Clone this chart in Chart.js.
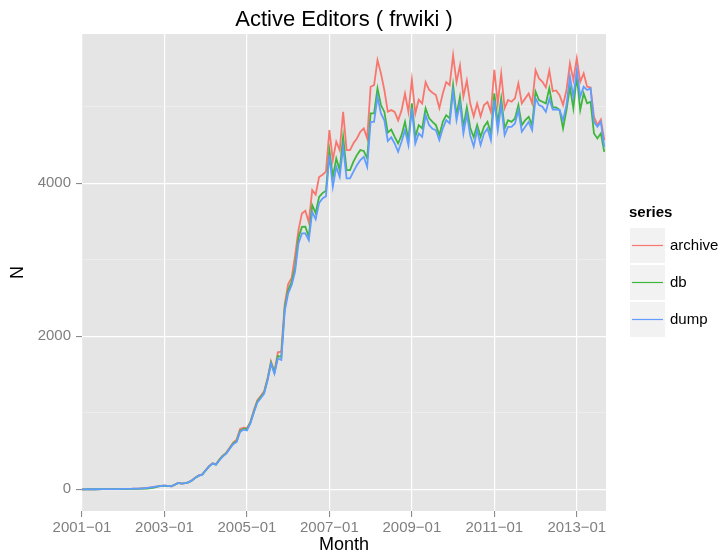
<!DOCTYPE html>
<html lang="en">

<head>
    <meta charset="UTF-8">
    <title>Active Editors ( frwiki )</title>
    <script src="https://cdn.jsdelivr.net/npm/chart.js"></script>
    <style>
        html, body { margin: 0; padding: 0; background: #ffffff; }
        canvas { display: block; }
    </style>
</head>

<body>
    <canvas id="editorsChart" width="724" height="556"></canvas>

    <script>
        // Monthly active editors, first month 2001-01
        const firstYear = 2001;
        const seriesNames = ['archive', 'db', 'dump'];
        const seriesColors = ['#F8766D', '#3DB63C', '#619CFF'];

        const archive = [
            0, 0, 1, 1, 1, 2, 2, 2, 3, 3, 4, 4, 5, 6, 7, 8, 9, 11, 14, 18,
            24, 32, 40, 46, 48, 44, 40, 62, 85, 76,
            82, 93, 120, 155, 182, 196, 252, 305, 342, 330,
            392, 442, 480, 545, 610, 650, 790, 806, 800, 880,
            1030, 1160, 1220, 1280, 1450, 1670, 1540, 1790, 1800, 2420,
            2680, 2760, 3050, 3386, 3604, 3640, 3490, 3908, 3850, 4080,
            4110, 4150, 4693, 4300, 4542, 4431, 4932, 4431, 4431, 4520,
            4584, 4671, 4714, 4584, 5259, 5281, 5608, 5434, 5216, 4932,
            4954, 4930, 4820, 4950, 5170, 4930, 5350, 4910, 5090, 5040,
            5320, 5220, 5180, 5150, 4980, 5170, 5320, 5280, 5670, 5320,
            5540, 5130, 5340, 5040, 4870, 5040, 4870, 5020, 5060, 4930,
            5480, 5040, 5430, 4980, 5085, 5063, 5107, 5303, 5042, 5107,
            5172, 5042, 5477, 5368, 5324, 5250, 5470, 5200, 5210, 5150,
            5020, 5216, 5564, 5346, 5630, 5324, 5434, 5259, 5250, 4867,
            4758, 4830, 4562
        ];

        const db = [
            0, 0, 1, 1, 1, 1, 2, 2, 2, 3, 3, 4, 4, 5, 6, 6, 7, 8, 9, 11,
            15, 22, 34, 44, 48, 44, 40, 60, 83, 74,
            80, 91, 117, 150, 179, 192, 248, 300, 336, 323,
            385, 436, 472, 538, 600, 630, 765, 790, 785, 870,
            1015, 1145, 1205, 1265, 1435, 1655, 1525, 1740, 1730, 2370,
            2600, 2710, 2900, 3290, 3428, 3430, 3300, 3712, 3610, 3820,
            3870, 3900, 4431, 4082, 4322, 4170, 4605, 4170, 4170, 4280,
            4366, 4431, 4420, 4322, 4911, 4911, 5238, 5020, 4930, 4660,
            4700, 4605, 4518, 4627, 4801, 4562, 5042, 4605, 4758, 4714,
            4976, 4850, 4801, 4758, 4627, 4801, 4888, 4845, 5281, 4888,
            5128, 4736, 4990, 4720, 4600, 4758, 4605, 4736, 4801, 4649,
            5172, 4780, 5107, 4714, 4823, 4801, 4845, 5020, 4758, 4823,
            4867, 4758, 5194, 5085, 5063, 5042, 5238, 4990, 4990, 4954,
            4714, 4954, 5259, 4976, 5400, 4954, 5172, 5042, 5063, 4649,
            4584, 4650, 4409
        ];

        const dump = [
            0, 0, 1, 1, 1, 2, 2, 2, 3, 3, 4, 4, 5, 6, 7, 8, 9, 11, 14, 18,
            24, 32, 40, 46, 48, 44, 40, 60, 83, 74,
            80, 91, 117, 150, 179, 192, 248, 300, 336, 323,
            380, 430, 466, 530, 590, 618, 749, 780, 770, 860,
            1000, 1130, 1190, 1250, 1420, 1640, 1510, 1710, 1690, 2330,
            2560, 2667, 2840, 3212, 3343, 3343, 3255, 3625, 3530, 3740,
            3800, 3830, 4366, 3952, 4213, 4082, 4474, 4061, 4061, 4150,
            4235, 4300, 4344, 4213, 4801, 4801, 5128, 4911, 4820, 4550,
            4600, 4518, 4409, 4540, 4692, 4497, 4976, 4518, 4649, 4605,
            4888, 4760, 4710, 4692, 4562, 4714, 4823, 4780, 5194, 4823,
            5042, 4649, 4900, 4620, 4480, 4692, 4497, 4649, 4714, 4562,
            5085, 4692, 5020, 4627, 4736, 4736, 4780, 4954, 4671, 4736,
            4801, 4692, 5107, 5020, 4998, 4930, 5100, 4960, 4965, 4954,
            4823, 5020, 5390, 5128, 5477, 5128, 5259, 5216, 5238, 4801,
            4736, 4800, 4474
        ];

        // tick labels as printed on the chart (R draws the dash as a minus sign)
        const xTickLabels = ['2001−01', '2003−01', '2005−01', '2007−01', '2009−01', '2011−01', '2013−01'];
        const yGridValues = [0, 1000, 2000, 3000, 4000, 5000];
        const yTickLabels = [0, 2000, 4000];

        // month names for every point, same form as the tick labels
        const months = archive.map((_, i) => {
            const year = firstYear + Math.floor(i / 12);
            const month = (i % 12) + 1;
            return year + '\u2212' + (month < 10 ? '0' + month : month);
        });

        const allSeries = [archive, db, dump];
        const fontFamily = "'Liberation Sans', Arial, Helvetica, sans-serif";

        // grey panel, title and legend in the ggplot2 style
        const ggplotLook = {
            id: 'ggplotLook',
            beforeDraw(chart) {
                const { ctx, chartArea } = chart;
                ctx.save();
                ctx.fillStyle = '#E5E5E5';
                ctx.fillRect(chartArea.left, chartArea.top, chartArea.right - chartArea.left, chartArea.bottom - chartArea.top);
                ctx.restore();
            },
            afterDraw(chart) {
                const { ctx, chartArea } = chart;
                ctx.save();

                // title
                ctx.fillStyle = '#000000';
                ctx.font = '22px ' + fontFamily;
                ctx.textAlign = 'center';
                ctx.textBaseline = 'middle';
                ctx.fillText('Active Editors ( frwiki )', (chartArea.left + chartArea.right) / 2, 20);

                // legend
                const lx = 630;
                let ly = 228;
                ctx.textAlign = 'left';
                ctx.font = 'bold 15px ' + fontFamily;
                ctx.fillText('series', lx - 1, 213);
                ctx.font = '15px ' + fontFamily;
                chart.data.datasets.forEach(ds => {
                    ctx.fillStyle = '#F2F2F2';
                    ctx.fillRect(lx, ly, 35, 35);
                    ctx.strokeStyle = ds.borderColor;
                    ctx.lineWidth = 1.2;
                    ctx.beginPath();
                    ctx.moveTo(lx + 2, ly + 17.5);
                    ctx.lineTo(lx + 33, ly + 17.5);
                    ctx.stroke();
                    ctx.fillStyle = '#000000';
                    ctx.fillText(ds.label, lx + 40, ly + 18);
                    ly += 37;
                });
                ctx.restore();
            }
        };

        const datasets = seriesNames.map((name, s) => ({
            label: name,
            data: allSeries[s].map((v, i) => ({ x: i, y: v })),
            borderColor: seriesColors[s],
            backgroundColor: seriesColors[s],
            borderWidth: 1.8,
            pointRadius: 0,
            tension: 0,
            order: seriesNames.length - s
        }));

        new Chart(document.getElementById('editorsChart'), {
            type: 'line',
            data: { datasets: datasets },
            plugins: [ggplotLook],
            options: {
                responsive: false,
                animation: false,
                devicePixelRatio: 1,
                layout: { padding: { top: 34, right: 118, bottom: 0, left: 0 } },
                plugins: {
                    legend: { display: false },
                    title: { display: false },
                    tooltip: { enabled: false }
                },
                scales: {
                    x: {
                        type: 'linear',
                        min: 0,
                        max: 152.5,
                        afterBuildTicks: scale => {
                            scale.ticks = xTickLabels.map(l => ({ value: months.indexOf(l) }));
                        },
                        afterFit: scale => { scale.height = 45; },
                        ticks: {
                            callback: value => months[value],
                            autoSkip: false,
                            maxRotation: 0,
                            padding: 2,
                            color: '#7F7F7F',
                            font: { family: fontFamily, size: 15 }
                        },
                        grid: {
                            color: '#FFFFFF',
                            lineWidth: 1.2,
                            tickLength: 6,
                            tickColor: '#7F7F7F',
                            tickWidth: 1
                        },
                        border: { display: false },
                        title: {
                            display: true,
                            text: 'Month',
                            color: '#000000',
                            padding: { top: 0, bottom: 0 },
                            font: { family: fontFamily, size: 18 }
                        }
                    },
                    y: {
                        min: -283,
                        max: 5948,
                        afterBuildTicks: scale => {
                            scale.ticks = yGridValues.map(v => ({ value: v }));
                        },
                        afterFit: scale => { scale.width = 82; },
                        ticks: {
                            callback: value => yTickLabels.includes(value) ? String(value) : '',
                            padding: 5,
                            color: '#7F7F7F',
                            font: { family: fontFamily, size: 15 }
                        },
                        grid: {
                            color: ctx => yTickLabels.includes(ctx.tick.value) ? '#FFFFFF' : '#F2F2F2',
                            lineWidth: ctx => yTickLabels.includes(ctx.tick.value) ? 1.2 : 0.6,
                            tickLength: 6,
                            tickColor: ctx => yTickLabels.includes(ctx.tick.value) ? '#7F7F7F' : 'rgba(0,0,0,0)',
                            tickWidth: 1
                        },
                        border: { display: false },
                        title: {
                            display: true,
                            text: 'N',
                            color: '#000000',
                            padding: { top: 7, bottom: 0 },
                            font: { family: fontFamily, size: 18 }
                        }
                    }
                }
            }
        });
    </script>
</body>

</html>
